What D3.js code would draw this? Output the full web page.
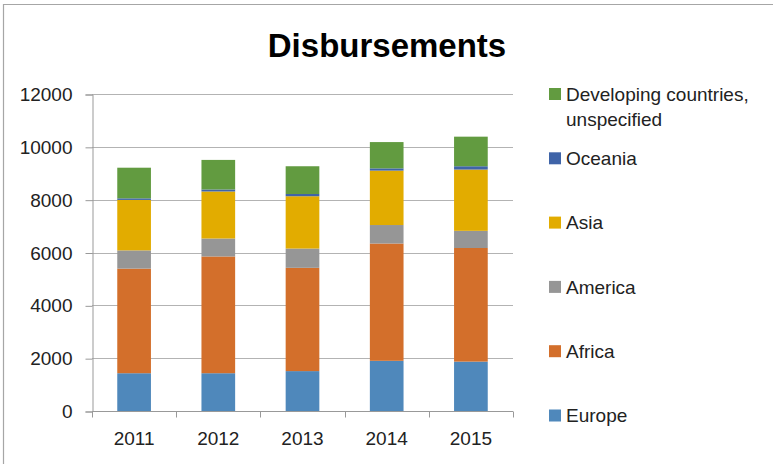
<!DOCTYPE html>
<html>
<head>
<meta charset="utf-8">
<script src="https://cdn.jsdelivr.net/npm/d3@7"></script>
<style>
  body { margin: 0; background: #fff; }
  svg { display: block; font-family: "Liberation Sans", Arial, sans-serif; }
</style>
</head>
<body>
<svg class="chart"></svg>
<script>
// values
var years = ["2011", "2012", "2013", "2014", "2015"];
var europe = [1430, 1430, 1510, 1900, 1870];
var africa = [3960, 4420, 3910, 4440, 4300];
var america = [690, 680, 730, 700, 650];
var asia = [1910, 1780, 1980, 2060, 2320];
var oceania = [60, 75, 85, 85, 125];
var developing = [1160, 1120, 1050, 995, 1120];
var yTicks = [0, 2000, 4000, 6000, 8000, 10000, 12000];

var seriesNames = ["Europe", "Africa", "America", "Asia", "Oceania", "Developing countries, unspecified"];
var seriesValues = [europe, africa, america, asia, oceania, developing];
var colors = ["#4f88bb", "#d36f2b", "#969696", "#e2ac00", "#3f64a8", "#629b40"];

var width = 773, height = 464;
var margin = {top: 94, right: 260, bottom: 53, left: 92};

// table for d3.stack, built from the arrays above
var table = years.map(function(y, i) {
  var row = {year: y};
  seriesNames.forEach(function(k, j) { row[k] = seriesValues[j][i]; });
  return row;
});
var stacked = d3.stack().keys(seriesNames)(table);

var x = d3.scaleBand()
    .domain(years)
    .range([margin.left, width - margin.right])
    .paddingInner(0.6)
    .paddingOuter(0.3);

var y = d3.scaleLinear()
    .domain([0, 12000])
    .range([height - margin.bottom - 0, margin.top]);

var chart = d3.select(".chart")
    .attr("width", width)
    .attr("height", height);

// outer frame (only left and top visible in the picture)
chart.append("path")
    .attr("d", "M3.5," + height + "V4.5H" + width)
    .attr("fill", "none")
    .attr("stroke", "#a6a6a6")
    .attr("stroke-width", 1.2);

// title
chart.append("text")
    .attr("x", 387)
    .attr("y", 57)
    .attr("text-anchor", "middle")
    .style("font-size", "33px")
    .style("font-weight", "bold")
    .text("Disbursements");

// gridlines
chart.append("g")
  .selectAll("line")
  .data(yTicks)
  .enter().append("line")
    .attr("x1", margin.left)
    .attr("x2", width - margin.right)
    .attr("y1", d => Math.round(y(d)) + 0.5)
    .attr("y2", d => Math.round(y(d)) + 0.5)
    .attr("stroke", "#b3b3b3")
    .attr("stroke-width", 1.2);

// y axis
var yAxis = g => g
    .attr("transform", "translate(" + (margin.left + 0.5) + ",0.5)")
    .call(d3.axisLeft(y).tickValues(yTicks).tickSize(7).tickPadding(13).tickFormat(d3.format("d")))
    .call(g => g.selectAll("line, path").attr("stroke", "#999"))
    .call(g => g.selectAll("text").style("font-size", "19px").attr("fill", "#222"));
chart.append("g").call(yAxis);

// bars
chart.append("g")
  .selectAll("g")
  .data(stacked)
  .enter().append("g")
    .attr("fill", (d, i) => colors[i])
  .selectAll("rect")
  .data(d => d)
  .enter().append("rect")
    .attr("x", d => x(d.data.year))
    .attr("width", x.bandwidth())
    .attr("y", d => y(d[1]))
    .attr("height", d => y(d[0]) - y(d[1]));

// x axis: line plus ticks at category boundaries
var y0 = Math.round(y(0)) + 0.5;
var half = (x.step() - x.bandwidth()) / 2;
var bounds = years.map(d => x(d) - half).concat([x(years[years.length - 1]) + x.bandwidth() + half]);
var xg = chart.append("g");
xg.append("line")
    .attr("x1", margin.left).attr("x2", width - margin.right)
    .attr("y1", y0).attr("y2", y0)
    .attr("stroke", "#999");
xg.selectAll("line.tick")
  .data(bounds)
  .enter().append("line")
    .attr("class", "tick")
    .attr("x1", d => Math.round(d) + 0.5).attr("x2", d => Math.round(d) + 0.5)
    .attr("y1", y0).attr("y2", y0 + 6)
    .attr("stroke", "#999");
xg.selectAll("text")
  .data(years)
  .enter().append("text")
    .attr("x", d => x(d) + x.bandwidth() / 2)
    .attr("y", 445)
    .attr("text-anchor", "middle")
    .attr("fill", "#222")
    .style("font-size", "19px")
    .text(d => d);

// legend, top entry is the top of the stack
var legendItems = seriesNames.slice().reverse();
var legendColors = colors.slice().reverse();
var legend = chart.append("g")
  .selectAll("g")
  .data(legendItems)
  .enter().append("g")
    .attr("transform", (d, i) => "translate(549," + (94 + i * 64.3) + ")");
legend.append("rect")
    .attr("x", 0).attr("y", -6)
    .attr("width", 12).attr("height", 12)
    .attr("fill", (d, i) => legendColors[i]);
legend.append("text")
    .attr("x", 17)
    .attr("y", 0)
    .attr("dy", "0.35em")
    .attr("fill", "#222")
    .style("font-size", "19px")
    .each(function(d) {
      var parts = d.indexOf(", ") > 0 ? [d.slice(0, d.indexOf(", ") + 1), d.slice(d.indexOf(", ") + 2)] : [d];
      var t = d3.select(this);
      parts.forEach(function(p, k) {
        t.append("tspan").attr("x", 17).attr("dy", k === 0 ? "0.35em" : "25.6px").text(p);
      });
    });
</script>
</body>
</html>
